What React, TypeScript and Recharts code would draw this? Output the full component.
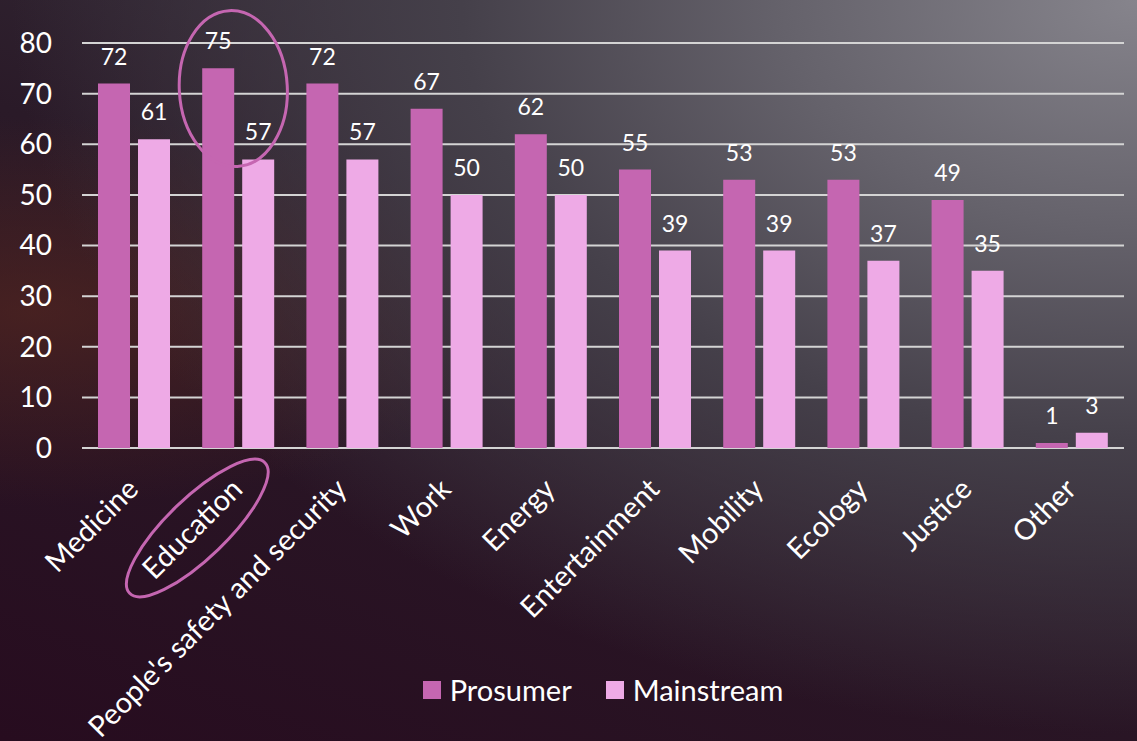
import React from "react";
import {
  BarChart,
  Bar,
  XAxis,
  YAxis,
  CartesianGrid,
  Legend,
  LabelList,
  ReferenceDot
} from "recharts";

const categories = [
  "Medicine",
  "Education",
  "People's safety and security",
  "Work",
  "Energy",
  "Entertainment",
  "Mobility",
  "Ecology",
  "Justice",
  "Other"
];
const prosumer = [72, 75, 72, 67, 62, 55, 53, 53, 49, 1];
const mainstream = [61, 57, 57, 50, 50, 39, 39, 37, 35, 3];
const yTicks = [0, 10, 20, 30, 40, 50, 60, 70, 80];
const seriesOrder = ["prosumer", "mainstream"];

const data = categories.map((name, i) => ({
  name,
  prosumer: prosumer[i],
  mainstream: mainstream[i]
}));

const PROSUMER = "#c566b1";
const MAINSTREAM = "#eeaae6";

// rotated category label, Education also gets the hand-drawn ring
const AngledTick = (props: any) => {
  const { x, y, payload } = props;
  return (
    <g>
      <text
        x={x + 6}
        y={y + 43}
        fill="#ffffff"
        fontSize={29}
        textAnchor="end"
        transform={`rotate(-45, ${x + 6}, ${y + 43})`}
      >
        {payload.value}
      </text>
      {payload.value === "Education" && (
        <ellipse
          cx={x - 41}
          cy={y + 80}
          rx={94}
          ry={30}
          fill="none"
          stroke={PROSUMER}
          strokeWidth={3}
          transform={`rotate(-44, ${x - 41}, ${y + 80})`}
        />
      )}
    </g>
  );
};

const RingShape = (props: any) => {
  const { cx, cy } = props;
  return (
    <ellipse
      cx={cx - 5}
      cy={cy}
      rx={54}
      ry={78}
      fill="none"
      stroke={PROSUMER}
      strokeWidth={3}
      transform={`rotate(-3, ${cx - 5}, ${cy})`}
    />
  );
};

const LegendContent = (props: any) => {
  const payload = [...(props.payload || [])].sort(
    (a: any, b: any) => seriesOrder.indexOf(a.dataKey) - seriesOrder.indexOf(b.dataKey)
  );
  return (
    <div style={{ display: "flex", justifyContent: "center", gap: 34, paddingLeft: 82 }}>
      {payload.map((entry: any) => (
        <div
          key={entry.value}
          style={{ display: "flex", alignItems: "center", color: "#ffffff", fontSize: 29, lineHeight: "34px" }}
        >
          <span
            style={{ width: 18, height: 18, background: entry.color, display: "inline-block", marginRight: 9 }}
          />
          {entry.value}
        </div>
      ))}
    </div>
  );
};

export default function App() {
  return (
    <div
      style={{
        position: "absolute",
        left: 0,
        top: 0,
        width: 1137,
        height: 741,
        fontFamily: "Lato, 'Open Sans', sans-serif",
        background:
          "radial-gradient(ellipse at 100% 0%, #86848c 0%, #65626b 22%, #45404a 42%, rgba(40,30,40,0) 70%), radial-gradient(ellipse at 3% 42%, rgba(90,40,30,0.6) 0%, rgba(60,25,30,0) 32%), linear-gradient(200deg, #3a3540 0%, #2a1a28 45%, #270c1f 100%)"
      }}
    >
      <BarChart
        width={1137}
        height={741}
        data={data}
        barCategoryGap={16}
        barGap={8}
        margin={{ top: 43, right: 13, left: 0, bottom: 34 }}
      >
        <CartesianGrid horizontal vertical={false} stroke="#d4d4d4" strokeWidth={2} />
        <XAxis
          dataKey="name"
          interval={0}
          height={225}
          axisLine={false}
          tickLine={false}
          tickSize={0}
          tickMargin={0}
          tick={<AngledTick />}
        />
        <YAxis
          domain={[0, 80]}
          ticks={yTicks}
          width={82}
          axisLine={false}
          tickLine={false}
          tickSize={0}
          tickMargin={30}
          tick={{ fill: "#ffffff", fontSize: 28 }}
        />
        <Legend verticalAlign="bottom" content={<LegendContent />} />
        <Bar dataKey="prosumer" name="Prosumer" fill={PROSUMER} isAnimationActive={false}>
          <LabelList dataKey="prosumer" position="top" offset={19} fill="#ffffff" fontSize={23} />
        </Bar>
        <Bar dataKey="mainstream" name="Mainstream" fill={MAINSTREAM} isAnimationActive={false}>
          <LabelList dataKey="mainstream" position="top" offset={19} fill="#ffffff" fontSize={23} />
        </Bar>
        <ReferenceDot x="Education" y={71} r={0} shape={<RingShape />} ifOverflow="visible" />
      </BarChart>
    </div>
  );
}
